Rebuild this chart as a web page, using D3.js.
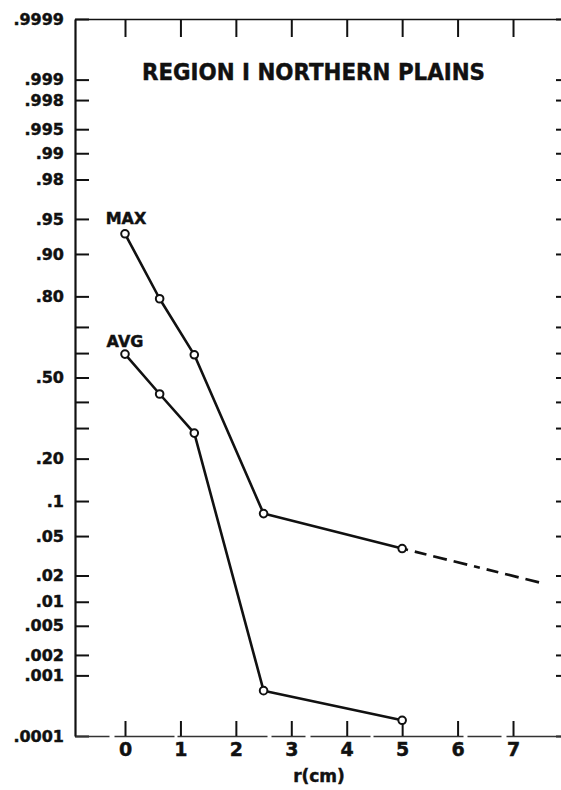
<!DOCTYPE html>
<html>
<head>
<meta charset="utf-8">
<script src="https://cdn.jsdelivr.net/npm/d3@7"></script>
<style>
  html, body { margin: 0; padding: 0; background: #fff; }
  svg { display: block; }
  text { font-family: "DejaVu Sans", sans-serif; font-weight: bold; fill: #111; stroke: #111; stroke-width: 0.45px; }
</style>
</head>
<body>
<svg id="chart" width="561" height="790"></svg>
<script>
// ---------------- data ----------------
const rValues   = [0, 0.625, 1.25, 2.5, 5];
const maxValues = [0.932, 0.793, 0.593, 0.079, 0.038];
const avgValues = [0.596, 0.432, 0.282, 0.00058, 0.000188];
const extR      = [5, 7.5];          // dashed extrapolation of MAX
const extP      = [0.038, 0.0166];
const xTickValues = [0, 1, 2, 3, 4, 5, 6, 7];
const yTickValues = [0.0001, 0.001, 0.002, 0.005, 0.01, 0.02, 0.05, 0.1, 0.2, 0.3, 0.4,
                     0.5, 0.6, 0.7, 0.8, 0.9, 0.95, 0.98, 0.99, 0.995, 0.998, 0.999, 0.9999];
const yTickLabels = [".0001", ".001", ".002", ".005", ".01", ".02", ".05", ".1", ".20", "", "",
                     ".50", "", "", ".80", ".90", ".95", ".98", ".99", ".995", ".998", ".999", ".9999"];
const titleText = "REGION I NORTHERN PLAINS";
const xTitle = "r(cm)";

// inverse normal CDF (Acklam) for the probability scale
function probit(p) {
  const a = [-3.969683028665376e+01, 2.209460984245205e+02, -2.759285104469687e+02,
             1.383577518672690e+02, -3.066479806614716e+01, 2.506628277459239e+00];
  const b = [-5.447609879822406e+01, 1.615858368580409e+02, -1.556989798598866e+02,
             6.680131188771972e+01, -1.328068155288572e+01];
  const c = [-7.784894002430293e-03, -3.223964580411365e-01, -2.400758277161838e+00,
             -2.549732539343734e+00, 4.374664141464968e+00, 2.938163982698783e+00];
  const d = [7.784695709041462e-03, 3.224671290700398e-01, 2.445134137142996e+00,
             3.754408661907416e+00];
  const pl = 0.02425, ph = 1 - pl;
  let q, r;
  if (p < pl) {
    q = Math.sqrt(-2 * Math.log(p));
    return (((((c[0]*q+c[1])*q+c[2])*q+c[3])*q+c[4])*q+c[5]) / ((((d[0]*q+d[1])*q+d[2])*q+d[3])*q+1);
  } else if (p <= ph) {
    q = p - 0.5; r = q * q;
    return (((((a[0]*r+a[1])*r+a[2])*r+a[3])*r+a[4])*r+a[5])*q / (((((b[0]*r+b[1])*r+b[2])*r+b[3])*r+b[4])*r+1);
  } else {
    q = Math.sqrt(-2 * Math.log(1 - p));
    return -(((((c[0]*q+c[1])*q+c[2])*q+c[3])*q+c[4])*q+c[5]) / ((((d[0]*q+d[1])*q+d[2])*q+d[3])*q+1);
  }
}

// ---------------- layout ----------------
const svg = d3.select("#chart");
const mLeft = 75, mRight = 570, mTop = 19, mBottom = 736;

const x = d3.scaleLinear().domain([-0.902, 8.028]).range([mLeft, mRight]);
const yz = d3.scaleLinear().domain([probit(0.0001), probit(0.9999)]).range([mBottom, mTop]);
const y = p => yz(probit(p));

const ink = "#111";

function styleAxis(g, w) {
  g.selectAll("path.domain").attr("stroke", ink).attr("stroke-width", w);
  g.selectAll(".tick line").attr("stroke", ink).attr("stroke-width", 2);
  g.selectAll(".tick text").attr("font-family", "DejaVu Sans").attr("font-weight", "bold").attr("fill", ink);
}

// left axis
const gL = svg.append("g").attr("transform", `translate(${mLeft},0)`)
  .call(d3.axisLeft(yz).tickValues(yTickValues.map(probit))
    .tickFormat((d, i) => yTickLabels[i]).tickSize(-14).tickSizeOuter(0).tickPadding(11));
styleAxis(gL, 2.2);
gL.selectAll(".tick text").attr("font-size", 16);

// right axis (frame line falls outside the picture)
const gR = svg.append("g").attr("transform", `translate(${mRight},0)`)
  .call(d3.axisRight(yz).tickValues(yTickValues.map(probit)).tickFormat("").tickSize(-14).tickSizeOuter(0));
styleAxis(gR, 2);

// top axis
const gT = svg.append("g").attr("transform", `translate(0,${mTop})`)
  .call(d3.axisTop(x).tickValues(xTickValues).tickFormat("").tickSize(-18).tickSizeOuter(0));
styleAxis(gT, 1.6);

// bottom axis
const gB = svg.append("g").attr("transform", `translate(0,${mBottom})`)
  .call(d3.axisBottom(x).tickValues(xTickValues).tickFormat(d3.format("d"))
    .tickSize(-15).tickSizeOuter(0).tickPadding(7));
styleAxis(gB, 1.4);
gB.select("path.domain").attr("stroke", "#333").attr("stroke-dasharray", "34,5,60,3,90,4");
gB.selectAll(".tick text").attr("font-size", 19);

// title
svg.append("text").attr("x", 142).attr("y", 80)
  .attr("font-size", 23).attr("textLength", 343).attr("lengthAdjust", "spacingAndGlyphs")
  .text(titleText);

// x axis title
svg.append("text").attr("x", x(3.5)).attr("y", 782).attr("text-anchor", "middle")
  .attr("font-size", 17).text(xTitle);

// series
const line = d3.line().x(d => x(d[0])).y(d => y(d[1]));
const maxPts = rValues.map((r, i) => [r, maxValues[i]]);
const avgPts = rValues.map((r, i) => [r, avgValues[i]]);
const extPts = extR.map((r, i) => [r, extP[i]]);

[maxPts, avgPts].forEach(pts => {
  svg.append("path").datum(pts).attr("d", line)
    .attr("fill", "none").attr("stroke", ink).attr("stroke-width", 2.6).attr("stroke-linejoin", "round");
});
svg.append("path").datum(extPts).attr("d", line)
  .attr("fill", "none").attr("stroke", ink).attr("stroke-width", 2.7).attr("stroke-dasharray", "6,7,12,7,14,7,14,7");

[maxPts, avgPts].forEach(pts => {
  svg.append("g").selectAll("circle").data(pts).join("circle")
    .attr("cx", d => x(d[0])).attr("cy", d => y(d[1])).attr("r", 3.8)
    .attr("fill", "#fff").attr("stroke", ink).attr("stroke-width", 2);
});

// series labels
svg.append("text").attr("x", x(0) + 1).attr("y", y(maxValues[0]) - 10).attr("text-anchor", "middle")
  .attr("font-size", 16).text("MAX");
svg.append("text").attr("x", x(0)).attr("y", y(avgValues[0]) - 7).attr("text-anchor", "middle")
  .attr("font-size", 16).text("AVG");
</script>
</body>
</html>
